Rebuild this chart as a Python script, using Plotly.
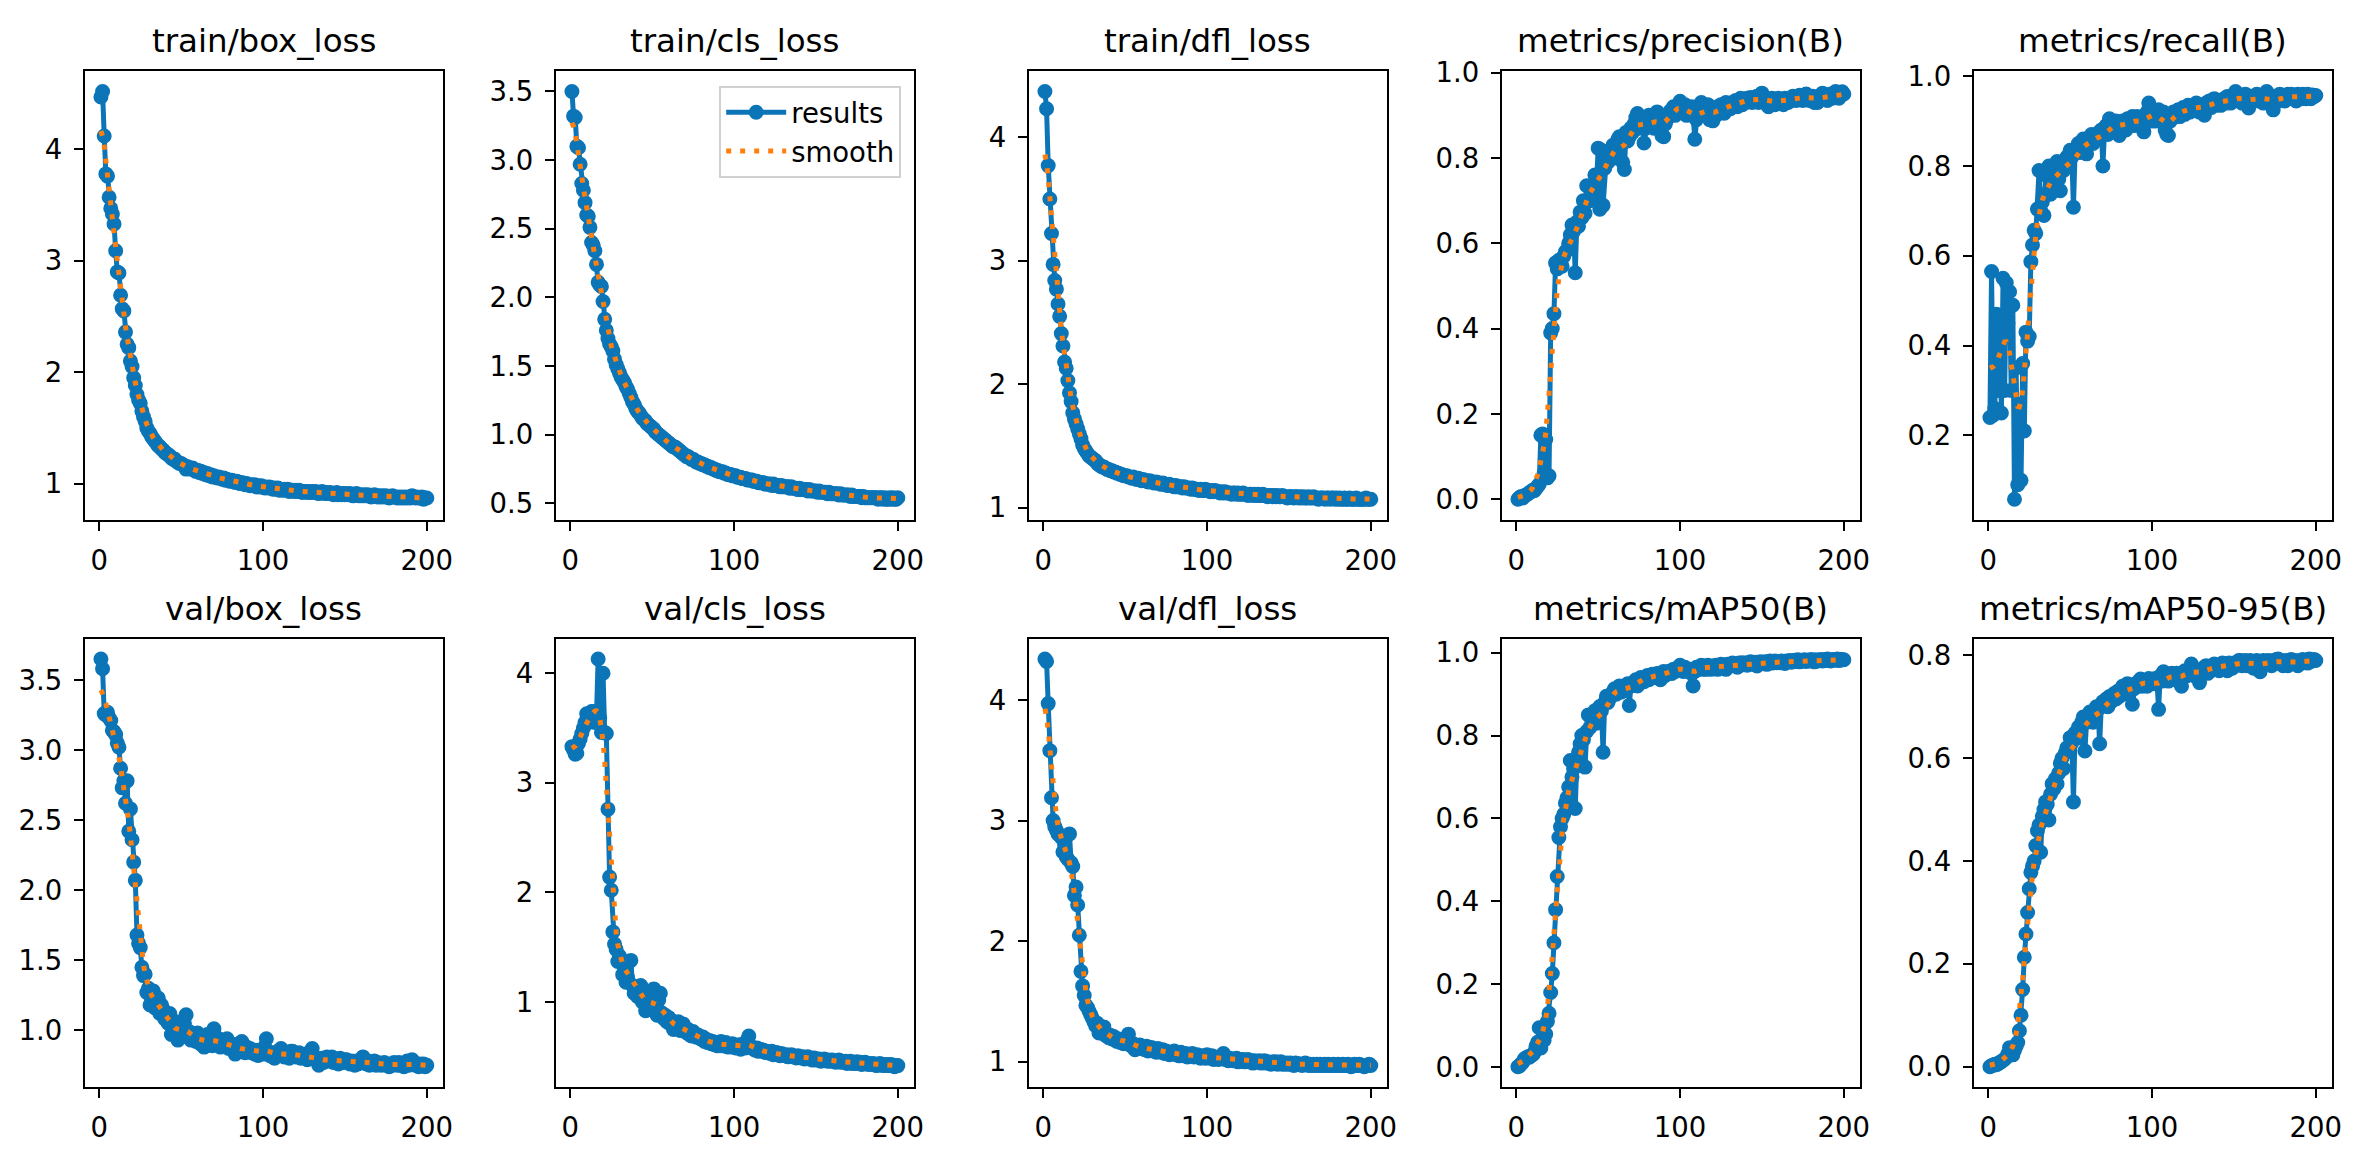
import numpy as np
import plotly.graph_objects as go

# epochs 1..200, values
epochs = list(range(1, 201))

train_box_loss = [
    4.47, 4.52, 4.12, 3.78, 3.76, 3.57, 3.47, 3.42, 3.33, 3.09,
    2.90, 2.89, 2.69, 2.57, 2.55, 2.36, 2.25, 2.22, 2.10, 2.05,
    1.95, 1.88, 1.80, 1.75, 1.72, 1.65, 1.60, 1.56, 1.50, 1.47,
    1.45, 1.42, 1.40, 1.38, 1.36, 1.34, 1.33, 1.31, 1.30, 1.28,
    1.27, 1.26, 1.25, 1.23, 1.22, 1.22, 1.20, 1.19, 1.18, 1.18,
    1.17, 1.16, 1.13, 1.15, 1.14, 1.13, 1.14, 1.12, 1.11, 1.12,
    1.10, 1.11, 1.09, 1.10, 1.08, 1.09, 1.07, 1.08, 1.06, 1.07,
    1.06, 1.05, 1.06, 1.05, 1.04, 1.05, 1.03, 1.04, 1.03, 1.02,
    1.03, 1.02, 1.01, 1.02, 1.01, 1.00, 1.01, 1.00, 0.99, 1.00,
    0.99, 0.98, 0.99, 0.98, 0.99, 0.97, 0.98, 0.97, 0.98, 0.97,
    0.96, 0.97, 0.96, 0.97, 0.96, 0.95, 0.96, 0.95, 0.96, 0.94,
    0.95, 0.94, 0.95, 0.94, 0.95, 0.93, 0.94, 0.94, 0.93, 0.94,
    0.93, 0.94, 0.93, 0.92, 0.93, 0.93, 0.92, 0.93, 0.92, 0.93,
    0.92, 0.93, 0.92, 0.91, 0.92, 0.93, 0.92, 0.91, 0.92, 0.91,
    0.92, 0.91, 0.90, 0.91, 0.92, 0.90, 0.91, 0.90, 0.91, 0.90,
    0.91, 0.90, 0.91, 0.90, 0.89, 0.90, 0.91, 0.90, 0.89, 0.90,
    0.89, 0.90, 0.89, 0.90, 0.89, 0.88, 0.89, 0.90, 0.89, 0.88,
    0.89, 0.88, 0.89, 0.88, 0.89, 0.88, 0.87, 0.88, 0.89, 0.88,
    0.88, 0.87, 0.88, 0.87, 0.88, 0.87, 0.88, 0.87, 0.88, 0.87,
    0.89, 0.88, 0.87, 0.88, 0.87, 0.87, 0.88, 0.86, 0.87, 0.87,
]

train_cls_loss = [
    3.50, 3.32, 3.31, 3.10, 3.09, 2.97, 2.83, 2.78, 2.69, 2.60,
    2.59, 2.51, 2.40, 2.38, 2.34, 2.24, 2.11, 2.09, 2.08, 1.97,
    1.84, 1.76, 1.70, 1.66, 1.64, 1.61, 1.55, 1.51, 1.48, 1.45,
    1.42, 1.40, 1.38, 1.35, 1.33, 1.30, 1.27, 1.24, 1.22, 1.19,
    1.17, 1.16, 1.14, 1.12, 1.11, 1.10, 1.08, 1.07, 1.06, 1.05,
    1.04, 1.02, 1.01, 1.00, 0.99, 0.98, 0.97, 0.96, 0.95, 0.94,
    0.93, 0.92, 0.91, 0.91, 0.90, 0.89, 0.88, 0.87, 0.86, 0.85,
    0.84, 0.84, 0.83, 0.82, 0.82, 0.81, 0.80, 0.80, 0.79, 0.79,
    0.78, 0.78, 0.77, 0.77, 0.76, 0.76, 0.75, 0.75, 0.74, 0.74,
    0.73, 0.73, 0.73, 0.72, 0.72, 0.71, 0.71, 0.71, 0.70, 0.70,
    0.70, 0.69, 0.69, 0.69, 0.68, 0.68, 0.68, 0.67, 0.67, 0.67,
    0.67, 0.66, 0.66, 0.66, 0.65, 0.65, 0.65, 0.65, 0.64, 0.64,
    0.64, 0.64, 0.63, 0.64, 0.63, 0.63, 0.63, 0.62, 0.63, 0.62,
    0.62, 0.62, 0.62, 0.61, 0.62, 0.61, 0.61, 0.61, 0.60, 0.61,
    0.60, 0.60, 0.60, 0.60, 0.59, 0.60, 0.59, 0.59, 0.59, 0.59,
    0.58, 0.59, 0.58, 0.58, 0.58, 0.58, 0.57, 0.58, 0.57, 0.57,
    0.57, 0.57, 0.57, 0.56, 0.57, 0.56, 0.56, 0.56, 0.56, 0.56,
    0.55, 0.56, 0.55, 0.55, 0.55, 0.55, 0.55, 0.54, 0.55, 0.54,
    0.54, 0.54, 0.54, 0.54, 0.54, 0.54, 0.54, 0.53, 0.54, 0.54,
    0.53, 0.54, 0.53, 0.53, 0.54, 0.53, 0.54, 0.53, 0.53, 0.54,
]

train_dfl_loss = [
    4.37, 4.23, 3.77, 3.50, 3.22, 2.97, 2.84, 2.77, 2.65, 2.55,
    2.41, 2.31, 2.18, 2.13, 2.03, 1.93, 1.86, 1.77, 1.72, 1.68,
    1.64, 1.60, 1.56, 1.51, 1.48, 1.46, 1.44, 1.42, 1.41, 1.40,
    1.39, 1.38, 1.36, 1.35, 1.34, 1.33, 1.33, 1.32, 1.31, 1.31,
    1.30, 1.30, 1.29, 1.29, 1.28, 1.28, 1.27, 1.27, 1.26, 1.26,
    1.26, 1.25, 1.25, 1.24, 1.25, 1.24, 1.23, 1.24, 1.23, 1.22,
    1.23, 1.22, 1.22, 1.21, 1.22, 1.21, 1.21, 1.20, 1.21, 1.20,
    1.20, 1.19, 1.20, 1.19, 1.19, 1.18, 1.19, 1.18, 1.18, 1.17,
    1.18, 1.17, 1.17, 1.17, 1.16, 1.17, 1.16, 1.16, 1.16, 1.15,
    1.16, 1.15, 1.15, 1.15, 1.14, 1.15, 1.14, 1.14, 1.15, 1.14,
    1.14, 1.13, 1.14, 1.13, 1.14, 1.13, 1.13, 1.12, 1.13, 1.12,
    1.13, 1.12, 1.12, 1.12, 1.11, 1.12, 1.12, 1.11, 1.12, 1.11,
    1.11, 1.12, 1.11, 1.11, 1.10, 1.11, 1.11, 1.10, 1.11, 1.10,
    1.11, 1.10, 1.10, 1.11, 1.10, 1.10, 1.09, 1.10, 1.10, 1.09,
    1.10, 1.09, 1.10, 1.09, 1.09, 1.10, 1.09, 1.09, 1.08, 1.09,
    1.09, 1.09, 1.08, 1.09, 1.09, 1.08, 1.09, 1.08, 1.09, 1.08,
    1.08, 1.09, 1.08, 1.08, 1.09, 1.08, 1.08, 1.07, 1.08, 1.08,
    1.08, 1.07, 1.08, 1.08, 1.07, 1.08, 1.08, 1.07, 1.08, 1.07,
    1.08, 1.07, 1.07, 1.08, 1.07, 1.07, 1.08, 1.07, 1.07, 1.07,
    1.08, 1.07, 1.07, 1.07, 1.07, 1.07, 1.08, 1.07, 1.07, 1.07,
]

precision = [
    0.000, 0.004, 0.006, 0.003, 0.008, 0.010, 0.012, 0.015, 0.018, 0.021,
    0.020, 0.025, 0.030, 0.035, 0.150, 0.153, 0.060, 0.140, 0.050, 0.055,
    0.390, 0.400, 0.435, 0.554, 0.540, 0.560, 0.550, 0.546, 0.570, 0.580,
    0.584, 0.600, 0.620, 0.643, 0.628, 0.531, 0.650, 0.640, 0.673, 0.660,
    0.700, 0.670, 0.735, 0.733, 0.700, 0.720, 0.707, 0.760, 0.740, 0.823,
    0.680, 0.818, 0.689, 0.776, 0.800, 0.790, 0.810, 0.810, 0.830, 0.800,
    0.820, 0.844, 0.850, 0.830, 0.790, 0.773, 0.860, 0.840, 0.850, 0.870,
    0.860, 0.880, 0.895, 0.904, 0.870, 0.880, 0.890, 0.835, 0.870, 0.880,
    0.900, 0.878, 0.890, 0.870, 0.895, 0.908, 0.880, 0.900, 0.852, 0.850,
    0.880, 0.890, 0.900, 0.910, 0.905, 0.920, 0.900, 0.915, 0.925, 0.933,
    0.920, 0.910, 0.925, 0.900, 0.915, 0.910, 0.920, 0.900, 0.844, 0.890,
    0.920, 0.910, 0.930, 0.905, 0.900, 0.915, 0.925, 0.890, 0.910, 0.887,
    0.910, 0.900, 0.920, 0.910, 0.925, 0.915, 0.905, 0.930, 0.920, 0.915,
    0.916, 0.930, 0.925, 0.935, 0.920, 0.930, 0.940, 0.925, 0.935, 0.930,
    0.940, 0.935, 0.942, 0.930, 0.940, 0.935, 0.945, 0.930, 0.940, 0.952,
    0.940, 0.935, 0.930, 0.920, 0.935, 0.940, 0.930, 0.925, 0.935, 0.940,
    0.930, 0.935, 0.925, 0.940, 0.933, 0.930, 0.940, 0.935, 0.945, 0.940,
    0.935, 0.942, 0.947, 0.942, 0.935, 0.940, 0.950, 0.945, 0.935, 0.940,
    0.945, 0.930, 0.935, 0.930, 0.945, 0.940, 0.952, 0.945, 0.940, 0.935,
    0.945, 0.950, 0.940, 0.945, 0.956, 0.945, 0.940, 0.948, 0.955, 0.950,
]

recall = [
    0.240, 0.565, 0.245, 0.260, 0.470, 0.300, 0.440, 0.250, 0.550, 0.300,
    0.540, 0.450, 0.520, 0.300, 0.490, 0.058, 0.350, 0.090, 0.270, 0.100,
    0.360, 0.210, 0.430, 0.410, 0.420, 0.587, 0.624, 0.657, 0.650, 0.704,
    0.790, 0.700, 0.720, 0.690, 0.780, 0.740, 0.800, 0.737, 0.780, 0.760,
    0.790, 0.810, 0.770, 0.745, 0.800, 0.790, 0.810, 0.820, 0.800, 0.835,
    0.820, 0.708, 0.830, 0.840, 0.850, 0.830, 0.845, 0.860, 0.840, 0.827,
    0.850, 0.860, 0.870, 0.850, 0.865, 0.870, 0.860, 0.876, 0.880, 0.800,
    0.880, 0.890, 0.870, 0.905, 0.890, 0.880, 0.895, 0.900, 0.885, 0.868,
    0.890, 0.900, 0.895, 0.880, 0.905, 0.893, 0.900, 0.910, 0.890, 0.905,
    0.910, 0.895, 0.900, 0.890, 0.876, 0.910, 0.920, 0.940, 0.900, 0.910,
    0.920, 0.900, 0.915, 0.925, 0.910, 0.900, 0.920, 0.880, 0.870, 0.868,
    0.900, 0.905, 0.920, 0.910, 0.915, 0.925, 0.910, 0.920, 0.930, 0.915,
    0.925, 0.935, 0.920, 0.930, 0.933, 0.925, 0.940, 0.930, 0.920, 0.935,
    0.925, 0.913, 0.940, 0.935, 0.945, 0.930, 0.940, 0.950, 0.935, 0.945,
    0.940, 0.935, 0.945, 0.950, 0.940, 0.955, 0.945, 0.940, 0.950, 0.955,
    0.966, 0.950, 0.945, 0.955, 0.940, 0.950, 0.960, 0.945, 0.929, 0.950,
    0.955, 0.945, 0.950, 0.960, 0.945, 0.950, 0.955, 0.940, 0.950, 0.966,
    0.950, 0.945, 0.940, 0.925, 0.950, 0.955, 0.945, 0.960, 0.950, 0.955,
    0.945, 0.950, 0.960, 0.955, 0.960, 0.950, 0.955, 0.945, 0.960, 0.955,
    0.950, 0.960, 0.955, 0.950, 0.960, 0.955, 0.950, 0.958, 0.955, 0.957,
]

val_box_loss = [
    3.65, 3.58, 3.26, 3.25, 3.27, 3.23, 3.21, 3.14, 3.13, 3.11,
    3.05, 3.02, 2.87, 2.73, 2.78, 2.62, 2.78, 2.42, 2.58, 2.36,
    2.20, 2.07, 1.68, 1.62, 1.59, 1.45, 1.39, 1.40, 1.27, 1.30,
    1.18, 1.22, 1.28, 1.16, 1.20, 1.23, 1.12, 1.18, 1.15, 1.08,
    1.10, 1.05, 1.12, 0.97, 1.02, 1.00, 1.06, 0.93, 0.98, 1.02,
    0.96, 1.05, 1.11, 0.95, 0.99, 0.93, 0.95, 0.97, 0.92, 0.98,
    0.93, 0.90, 0.95, 0.88, 0.92, 0.97, 0.91, 0.93, 0.89, 1.01,
    0.92, 0.90, 0.94, 0.88, 0.91, 0.89, 0.93, 0.94, 0.87, 0.90,
    0.88, 0.86, 0.83, 0.90, 0.87, 0.85, 0.92, 0.86, 0.84, 0.88,
    0.85, 0.87, 0.84, 0.86, 0.83, 0.85, 0.82, 0.86, 0.84, 0.83,
    0.88, 0.94, 0.85, 0.82, 0.84, 0.81, 0.80, 0.83, 0.85, 0.82,
    0.87, 0.83, 0.81, 0.84, 0.82, 0.80, 0.85, 0.85, 0.82, 0.81,
    0.83, 0.84, 0.80, 0.82, 0.81, 0.83, 0.79, 0.80, 0.82, 0.87,
    0.81, 0.79, 0.80, 0.75, 0.78, 0.80, 0.77, 0.79, 0.81, 0.78,
    0.80, 0.81, 0.77, 0.79, 0.78, 0.76, 0.80, 0.78, 0.77, 0.79,
    0.79, 0.77, 0.76, 0.78, 0.77, 0.75, 0.78, 0.76, 0.77, 0.79,
    0.81, 0.77, 0.76, 0.78, 0.75, 0.77, 0.76, 0.78, 0.75, 0.77,
    0.76, 0.75, 0.76, 0.77, 0.75, 0.76, 0.74, 0.76, 0.75, 0.77,
    0.76, 0.75, 0.77, 0.75, 0.76, 0.74, 0.76, 0.78, 0.75, 0.76,
    0.79, 0.77, 0.75, 0.76, 0.74, 0.76, 0.75, 0.76, 0.74, 0.75,
]

val_cls_loss = [
    3.33, 3.30, 3.26, 3.27, 3.36, 3.40, 3.45, 3.50, 3.55, 3.63,
    3.55, 3.60, 3.65, 3.65, 3.55, 3.62, 4.13, 3.59, 3.46, 4.00,
    3.46, 3.45, 2.76, 2.14, 2.02, 1.64, 1.53, 1.48, 1.37, 1.42,
    1.38, 1.25, 1.30, 1.18, 1.22, 1.37, 1.38, 1.15, 1.08, 1.12,
    1.05, 1.10, 1.15, 1.00, 1.05, 0.92, 1.02, 0.98, 0.96, 1.00,
    1.12, 0.95, 0.88, 1.02, 1.08, 0.90, 0.85, 0.88, 0.82, 0.86,
    0.80, 0.83, 0.75, 0.80, 0.78, 0.82, 0.74, 0.78, 0.80, 0.76,
    0.72, 0.75, 0.70, 0.69, 0.73, 0.70, 0.68, 0.70, 0.67, 0.66,
    0.68, 0.64, 0.66, 0.63, 0.65, 0.62, 0.64, 0.61, 0.63, 0.60,
    0.62, 0.64, 0.60, 0.61, 0.63, 0.59, 0.61, 0.59, 0.62, 0.60,
    0.58, 0.60, 0.61, 0.57, 0.59, 0.62, 0.58, 0.65, 0.69, 0.60,
    0.58, 0.57, 0.56, 0.58, 0.55, 0.57, 0.555, 0.56, 0.54, 0.55,
    0.54, 0.53, 0.55, 0.52, 0.53, 0.54, 0.52, 0.51, 0.53, 0.52,
    0.51, 0.52, 0.50, 0.51, 0.52, 0.50, 0.505, 0.49, 0.51, 0.50,
    0.49, 0.50, 0.48, 0.49, 0.50, 0.48, 0.49, 0.47, 0.49, 0.48,
    0.47, 0.48, 0.46, 0.47, 0.48, 0.47, 0.46, 0.47, 0.46, 0.47,
    0.46, 0.45, 0.46, 0.47, 0.45, 0.46, 0.45, 0.46, 0.44, 0.45,
    0.46, 0.44, 0.45, 0.44, 0.456, 0.44, 0.45, 0.43, 0.44, 0.45,
    0.44, 0.43, 0.44, 0.43, 0.44, 0.43, 0.42, 0.43, 0.44, 0.43,
    0.42, 0.43, 0.42, 0.43, 0.42, 0.43, 0.42, 0.41, 0.42, 0.42,
]

val_dfl_loss = [
    4.34, 4.32, 3.97, 3.58, 3.19, 3.00, 2.95, 2.92, 2.89, 2.88,
    2.86, 2.74, 2.80, 2.70, 2.68, 2.89, 2.65, 2.62, 2.38, 2.45,
    2.30, 2.05, 1.75, 1.63, 1.55, 1.47, 1.45, 1.42, 1.39, 1.36,
    1.33, 1.30, 1.32, 1.24, 1.27, 1.25, 1.29, 1.22, 1.23, 1.20,
    1.22, 1.19, 1.21, 1.18, 1.17, 1.19, 1.16, 1.18, 1.15, 1.17,
    1.20, 1.23, 1.14, 1.13, 1.15, 1.10, 1.13, 1.12, 1.14, 1.11,
    1.12, 1.10, 1.13, 1.09, 1.11, 1.12, 1.09, 1.10, 1.08, 1.11,
    1.09, 1.08, 1.10, 1.07, 1.09, 1.08, 1.06, 1.08, 1.07, 1.09,
    1.06, 1.07, 1.05, 1.08, 1.06, 1.05, 1.07, 1.04, 1.06, 1.05,
    1.07, 1.04, 1.05, 1.06, 1.04, 1.03, 1.05, 1.04, 1.03, 1.06,
    1.04, 1.03, 1.05, 1.02, 1.04, 1.03, 1.02, 1.04, 1.03, 1.07,
    1.02, 1.03, 1.01, 1.03, 1.02, 1.01, 1.02, 1.03, 1.00, 1.02,
    1.01, 1.02, 1.00, 1.01, 1.02, 1.00, 1.01, 0.99, 1.01, 1.00,
    1.00, 1.01, 0.99, 1.00, 1.01, 0.99, 1.00, 0.99, 0.98, 1.00,
    0.99, 1.00, 0.98, 0.99, 1.00, 0.98, 0.99, 0.98, 0.99, 0.98,
    0.99, 0.98, 0.97, 0.99, 0.98, 0.985, 0.98, 0.97, 0.98, 0.99,
    0.98, 0.97, 0.98, 0.97, 0.98, 0.97, 0.98, 0.97, 0.98, 0.97,
    0.97, 0.98, 0.97, 0.98, 0.97, 0.97, 0.98, 0.97, 0.97, 0.98,
    0.97, 0.97, 0.98, 0.97, 0.97, 0.98, 0.97, 0.96, 0.97, 0.98,
    0.97, 0.97, 0.98, 0.97, 0.97, 0.96, 0.97, 0.97, 0.98, 0.97,
]

map50 = [
    0.001, 0.003, 0.008, 0.012, 0.020, 0.022, 0.025, 0.024, 0.028, 0.030,
    0.035, 0.050, 0.060, 0.095, 0.046, 0.070, 0.065, 0.080, 0.110, 0.130,
    0.180, 0.226, 0.300, 0.380, 0.460, 0.554, 0.580, 0.600, 0.610, 0.637,
    0.650, 0.676, 0.740, 0.700, 0.720, 0.624, 0.740, 0.760, 0.780, 0.800,
    0.790, 0.724, 0.810, 0.850, 0.820, 0.840, 0.850, 0.860, 0.830, 0.838,
    0.870, 0.860, 0.760, 0.880, 0.895, 0.880, 0.890, 0.900, 0.905, 0.913,
    0.900, 0.910, 0.920, 0.905, 0.915, 0.920, 0.910, 0.925, 0.873, 0.920,
    0.925, 0.930, 0.935, 0.920, 0.930, 0.940, 0.935, 0.930, 0.940, 0.945,
    0.935, 0.940, 0.948, 0.945, 0.940, 0.950, 0.945, 0.935, 0.950, 0.955,
    0.945, 0.950, 0.955, 0.956, 0.950, 0.960, 0.955, 0.960, 0.965, 0.970,
    0.960, 0.955, 0.965, 0.960, 0.955, 0.960, 0.950, 0.920, 0.955, 0.965,
    0.960, 0.965, 0.970, 0.960, 0.965, 0.960, 0.970, 0.965, 0.960, 0.968,
    0.965, 0.970, 0.960, 0.968, 0.972, 0.965, 0.970, 0.960, 0.972, 0.970,
    0.968, 0.975, 0.970, 0.972, 0.965, 0.975, 0.970, 0.976, 0.972, 0.975,
    0.970, 0.976, 0.978, 0.972, 0.975, 0.977, 0.968, 0.975, 0.978, 0.976,
    0.975, 0.978, 0.972, 0.978, 0.980, 0.975, 0.978, 0.980, 0.976, 0.979,
    0.976, 0.980, 0.978, 0.974, 0.980, 0.978, 0.981, 0.977, 0.980, 0.982,
    0.979, 0.983, 0.978, 0.981, 0.980, 0.983, 0.979, 0.982, 0.980, 0.984,
    0.981, 0.978, 0.983, 0.980, 0.982, 0.984, 0.980, 0.983, 0.981, 0.985,
    0.982, 0.980, 0.984, 0.982, 0.983, 0.985, 0.981, 0.984, 0.983, 0.983,
]

map50_95 = [
    0.000, 0.002, 0.003, 0.005, 0.004, 0.006, 0.008, 0.010, 0.012, 0.015,
    0.018, 0.025, 0.037, 0.030, 0.023, 0.032, 0.040, 0.047, 0.070, 0.100,
    0.150, 0.213, 0.258, 0.300, 0.346, 0.378, 0.390, 0.400, 0.430, 0.459,
    0.470, 0.417, 0.487, 0.500, 0.515, 0.510, 0.480, 0.530, 0.550, 0.540,
    0.560, 0.550, 0.571, 0.590, 0.600, 0.580, 0.610, 0.620, 0.614, 0.640,
    0.630, 0.515, 0.649, 0.650, 0.660, 0.640, 0.670, 0.680, 0.614, 0.670,
    0.680, 0.690, 0.688, 0.670, 0.690, 0.700, 0.695, 0.628, 0.700, 0.710,
    0.705, 0.715, 0.700, 0.720, 0.710, 0.720, 0.726, 0.715, 0.730, 0.720,
    0.730, 0.740, 0.725, 0.735, 0.745, 0.730, 0.740, 0.705, 0.735, 0.745,
    0.740, 0.750, 0.754, 0.740, 0.745, 0.750, 0.740, 0.755, 0.745, 0.750,
    0.745, 0.755, 0.750, 0.695, 0.760, 0.750, 0.768, 0.755, 0.760, 0.750,
    0.760, 0.765, 0.755, 0.760, 0.765, 0.750, 0.760, 0.740, 0.765, 0.770,
    0.760, 0.770, 0.765, 0.783, 0.770, 0.760, 0.770, 0.765, 0.747, 0.770,
    0.775, 0.770, 0.780, 0.765, 0.775, 0.770, 0.780, 0.783, 0.775, 0.780,
    0.770, 0.780, 0.785, 0.775, 0.780, 0.770, 0.785, 0.780, 0.775, 0.785,
    0.780, 0.785, 0.790, 0.790, 0.780, 0.785, 0.790, 0.780, 0.785, 0.790,
    0.785, 0.775, 0.780, 0.790, 0.785, 0.768, 0.780, 0.790, 0.785, 0.788,
    0.790, 0.785, 0.780, 0.790, 0.785, 0.792, 0.793, 0.785, 0.790, 0.780,
    0.785, 0.790, 0.780, 0.788, 0.792, 0.785, 0.790, 0.786, 0.780, 0.790,
    0.785, 0.792, 0.788, 0.790, 0.785, 0.793, 0.788, 0.790, 0.792, 0.790,
]

titles = [
    "train/box_loss", "train/cls_loss", "train/dfl_loss",
    "metrics/precision(B)", "metrics/recall(B)",
    "val/box_loss", "val/cls_loss", "val/dfl_loss",
    "metrics/mAP50(B)", "metrics/mAP50-95(B)",
]
series = [
    train_box_loss, train_cls_loss, train_dfl_loss, precision, recall,
    val_box_loss, val_cls_loss, val_dfl_loss, map50, map50_95,
]
y_ticks = [
    [1, 2, 3, 4], [0.5, 1.0, 1.5, 2.0, 2.5, 3.0, 3.5], [1, 2, 3, 4],
    [0.0, 0.2, 0.4, 0.6, 0.8, 1.0], [0.2, 0.4, 0.6, 0.8, 1.0],
    [1.0, 1.5, 2.0, 2.5, 3.0, 3.5], [1, 2, 3, 4], [1, 2, 3, 4],
    [0.0, 0.2, 0.4, 0.6, 0.8, 1.0], [0.0, 0.2, 0.4, 0.6, 0.8],
]
y_fmt = ["d", ".1f", "d", ".1f", ".1f", ".1f", "d", "d", ".1f", ".1f"]
x_ticks = [0, 100, 200]

for s in series:
    assert len(s) == len(epochs), len(s)

BLUE = "#0b75b7"
ORANGE = "#ff7f0e"
FONT = "DejaVu Sans"
W, H = 2367, 1156

# pixel boxes of the panels, measured on the reference
col_left = [85, 558, 1033, 1508, 1982]
box_w = 360
row_top = [57, 634]
box_h = 456


def smooth(y, sigma=3.0):
    # same as scipy gaussian_filter1d(mode="reflect")
    y = np.asarray(y, dtype=float)
    r = int(4 * sigma + 0.5)
    k = np.exp(-0.5 * (np.arange(-r, r + 1) / sigma) ** 2)
    k /= k.sum()
    return np.convolve(np.pad(y, r, mode="symmetric"), k, mode="valid")


fig = go.Figure()
layout = {}
annotations = []

for i, (name, y) in enumerate(zip(titles, series)):
    row, col = divmod(i, 5)
    n = "" if i == 0 else str(i + 1)
    ys = smooth(y)
    show = i == 1

    fig.add_trace(go.Scatter(
        x=epochs, y=y, mode="lines+markers", name="results",
        line=dict(color=BLUE, width=5),
        marker=dict(color=BLUE, size=12, line=dict(color=BLUE, width=3)),
        xaxis="x" + n, yaxis="y" + n, showlegend=show, legendrank=1,
    ))
    fig.add_trace(go.Scatter(
        x=epochs, y=ys, mode="lines", name="smooth",
        line=dict(color=ORANGE, width=5, dash="5px,9px"),
        xaxis="x" + n, yaxis="y" + n, showlegend=show, legendrank=2,
    ))

    lo = min(min(y), ys.min())
    hi = max(max(y), ys.max())
    pad = 0.05 * (hi - lo)

    x0 = col_left[col] / W
    x1 = (col_left[col] + box_w) / W
    y1 = 1 - row_top[row] / H
    y0 = 1 - (row_top[row] + box_h) / H

    common = dict(
        showline=True, mirror=True, linecolor="black", linewidth=2,
        ticks="outside", ticklen=9, tickwidth=2, tickcolor="black",
        showgrid=False, zeroline=False,
        tickfont=dict(family=FONT, size=27.5, color="black"),
        ticklabelstandoff=6,
    )
    layout["xaxis" + n] = dict(
        domain=[x0, x1], anchor="y" + n,
        range=[1 - 0.05 * 199, 200 + 0.05 * 199],
        tickvals=x_ticks, **common,
    )
    layout["yaxis" + n] = dict(
        domain=[y0, y1], anchor="x" + n,
        range=[lo - pad, hi + pad],
        tickvals=y_ticks[i], tickformat=y_fmt[i], **common,
    )
    annotations.append(dict(
        text=name, x=(x0 + x1) / 2, y=y1, xref="paper", yref="paper",
        xanchor="center", yanchor="bottom", yshift=9, showarrow=False,
        font=dict(family=FONT, size=32.5, color="black"),
    ))

fig.update_layout(
    **layout,
    annotations=annotations,
    width=W, height=H,
    margin=dict(l=0, r=0, t=0, b=0),
    paper_bgcolor="white", plot_bgcolor="white",
    font=dict(family=FONT, color="black"),
    legend=dict(
        x=(558 + 347) / W, y=1 - 72 / H, xanchor="right", yanchor="top",
        bgcolor="white", bordercolor="#d0d0d0", borderwidth=2,
        font=dict(family=FONT, size=27.5, color="black"),
        itemwidth=60, tracegroupgap=0,
    ),
)

fig.write_html(
    "out.html",
    config={"displayModeBar": False},
    post_script="document.body.style.margin='0';",
)
